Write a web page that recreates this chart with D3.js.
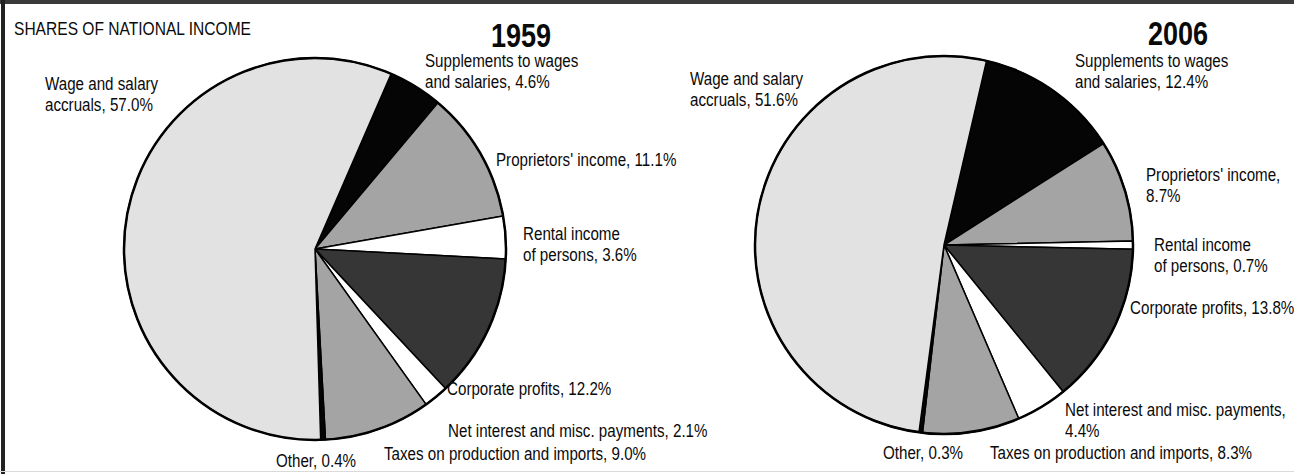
<!DOCTYPE html>
<html>
<head>
<meta charset="utf-8">
<script src="https://cdn.jsdelivr.net/npm/d3@7"></script>
<style>
  html, body { margin: 0; padding: 0; background: #fff; }
  svg text { font-family: "Liberation Sans", Arial, sans-serif; fill: #0a0a0a; }
</style>
</head>
<body>
<svg id="chart"></svg>
<script>
/* data */
var categories = ["Supplements to wages and salaries", "Proprietors' income", "Rental income of persons",
  "Corporate profits", "Net interest and misc. payments", "Taxes on production and imports", "Other",
  "Wage and salary accruals"];
var values1959 = [4.6, 11.1, 3.6, 12.2, 2.1, 9.0, 0.4, 57.0];
var values2006 = [12.4, 8.7, 0.7, 13.8, 4.4, 8.3, 0.3, 51.6];
// label text, "|" = line break, "%v" = the value
var labels1959 = ["Supplements to wages|and salaries, %v%", "Proprietors' income, %v%", "Rental income|of persons, %v%",
  "Corporate profits, %v%", "Net interest and misc. payments, %v%", "Taxes on production and imports, %v%",
  "Other, %v%", "Wage and salary|accruals, %v%"];
var labels2006 = ["Supplements to wages|and salaries, %v%", "Proprietors' income,|%v%", "Rental income|of persons, %v%",
  "Corporate profits, %v%", "Net interest and misc. payments,|%v%", "Taxes on production and imports, %v%",
  "Other, %v%", "Wage and salary|accruals, %v%"];
var years = ["1959", "2006"];
var chartTitle = "SHARES OF NATIONAL INCOME";

/* styles */
var fills = ["#050505", "#a4a4a4", "#ffffff", "#363636", "#ffffff", "#a4a4a4", "#050505", "#e2e2e2"];
var narrow = 0.82; // squeeze the sans face to look like Helvetica Narrow

var width = 1294, height = 474;
var svg = d3.select("#chart").attr("width", width).attr("height", height);

// frame
svg.append("rect").attr("x", 0).attr("y", 0).attr("width", width).attr("height", 4).attr("fill", "#3a3a3a");
svg.append("rect").attr("x", 1).attr("y", 0).attr("width", 4).attr("height", height).attr("fill", "#222");
svg.append("rect").attr("x", 0).attr("y", height - 3).attr("width", width).attr("height", 1).attr("fill", "#dadada");

function narrowText(x, y, size) {
  return svg.append("text")
    .attr("transform", "translate(" + x + "," + y + ") scale(" + narrow + ",1)")
    .style("font-size", size + "px");
}

narrowText(14, 35, 19).text(chartTitle);

// layout per pie (centre, radius, rotation, label anchors)
var pies = [
  { year: years[0], values: values1959, labels: labels1959, cx: 315, cy: 249, r: 191, startDeg: 23.5,
    yearX: 521, yearY: 47,
    pos: [[425, 67], [496, 166], [523, 240], [447, 395], [448, 437], [384, 460], [276, 467], [45, 90]] },
  { year: years[1], values: values2006, labels: labels2006, cx: 944, cy: 245, r: 189, startDeg: 13,
    yearX: 1178, yearY: 45,
    pos: [[1075, 67], [1146, 181], [1154, 251], [1130, 314], [1065, 416], [990, 459], [883, 459], [690, 85]] }
];

pies.forEach(function(p) {
  var start = p.startDeg * Math.PI / 180;
  var pie = d3.pie().sort(null).value(function(d) { return d; })
    .startAngle(start).endAngle(start + 2 * Math.PI);
  var arc = d3.arc().innerRadius(0).outerRadius(p.r);

  var g = svg.append("g").attr("transform", "translate(" + p.cx + "," + p.cy + ")");
  g.selectAll("path.slice")
    .data(pie(p.values))
    .enter().append("path")
      .attr("class", "slice")
      .attr("d", arc)
      .attr("fill", function(d, i) { return fills[i]; })
      .attr("stroke", "#000")
      .attr("stroke-width", 1.5)
      .attr("stroke-linejoin", "round");
  // outline
  g.append("circle").attr("r", p.r).attr("fill", "none").attr("stroke", "#000").attr("stroke-width", 2.5);

  narrowText(p.yearX, p.yearY, 33)
    .attr("text-anchor", "middle")
    .style("font-weight", "bold")
    .text(p.year);

  // labels
  p.labels.forEach(function(tpl, i) {
    var lines = tpl.replace("%v", p.values[i].toFixed(1)).split("|");
    var t = narrowText(p.pos[i][0], p.pos[i][1], 18.5);
    lines.forEach(function(line, k) {
      t.append("tspan").attr("x", 0).attr("dy", k === 0 ? 0 : 21.5).text(line);
    });
  });
});
</script>
</body>
</html>
